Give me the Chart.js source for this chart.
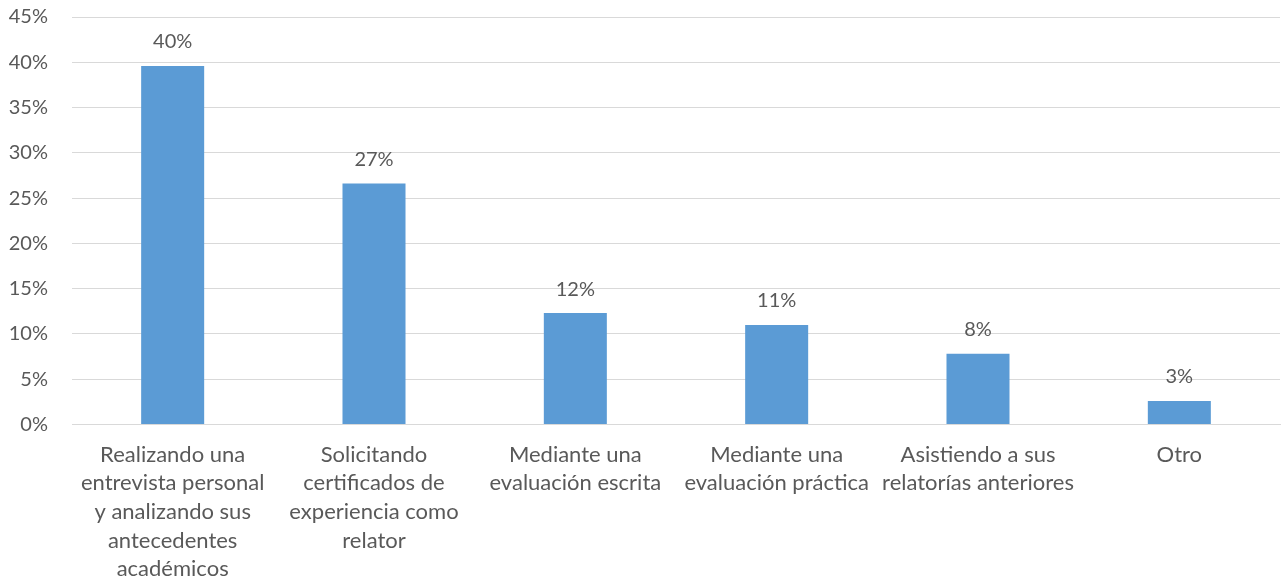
<!DOCTYPE html>
<html>
<head>
<meta charset="utf-8">
<script src="https://cdn.jsdelivr.net/npm/chart.js@4"></script>
<style>
  html, body { margin: 0; padding: 0; background: #fff; }
  #wrap { width: 1283px; height: 586px; position: relative; }
</style>
</head>
<body>
<div id="wrap"><canvas id="c"></canvas></div>
<script>
// Categories (wrapped into lines as they are shown under the axis)
const categories = [
  ["Realizando una", "entrevista personal", "y analizando sus", "antecedentes", "académicos"],
  ["Solicitando", "certificados de", "experiencia como", "relator"],
  ["Mediante una", "evaluación escrita"],
  ["Mediante una", "evaluación práctica"],
  ["Asistiendo a sus", "relatorías anteriores"],
  ["Otro"]
];
// Share of responses, in percent
const values = [39.6, 26.6, 12.3, 11.0, 7.8, 2.6];
// Y axis range and step, in percent
const yMin = 0;
const yMax = 45;
const yStep = 5;

const FONT = "Lato, 'Open Sans', sans-serif";
const TEXT = "#595959";

// Writes each bar's rounded value above it
const valueLabels = {
  id: "valueLabels",
  afterDatasetsDraw(chart) {
    const ctx = chart.ctx;
    const meta = chart.getDatasetMeta(0);
    ctx.save();
    ctx.font = "20px " + FONT;
    ctx.fillStyle = TEXT;
    ctx.textAlign = "center";
    ctx.textBaseline = "middle";
    meta.data.forEach((bar, i) => {
      ctx.fillText(Math.round(values[i]) + "%", bar.x, bar.y - 24);
    });
    ctx.restore();
  }
};

new Chart(document.getElementById("c"), {
  type: "bar",
  data: {
    labels: categories,
    datasets: [{
      data: values,
      backgroundColor: "#5B9BD5",
      borderWidth: 0,
      barPercentage: 0.313,
      categoryPercentage: 1.0
    }]
  },
  options: {
    responsive: true,
    maintainAspectRatio: false,
    animation: false,
    layout: { padding: { top: 17, right: 3, left: 0, bottom: 0 } },
    plugins: {
      legend: { display: false },
      tooltip: { enabled: false }
    },
    scales: {
      x: {
        grid: { display: false, drawTicks: false },
        border: { display: true, color: "#d9d9d9", width: 1 },
        ticks: {
          color: TEXT,
          font: { family: FONT, size: 22, lineHeight: 1.3 },
          padding: 16,
          maxRotation: 0,
          autoSkip: false
        },
        afterFit(scale) { scale.height = 161.5; }
      },
      y: {
        min: yMin,
        max: yMax,
        grid: { color: "#d9d9d9", lineWidth: 1, drawTicks: false },
        border: { display: false },
        ticks: {
          stepSize: yStep,
          color: TEXT,
          font: { family: FONT, size: 20 },
          padding: 24,
          callback: v => v + "%"
        },
        afterFit(scale) {
          scale.width = 72;
          scale.paddingTop = 0;
          scale.paddingBottom = 0;
        }
      }
    }
  },
  plugins: [valueLabels]
});
</script>
</body>
</html>
